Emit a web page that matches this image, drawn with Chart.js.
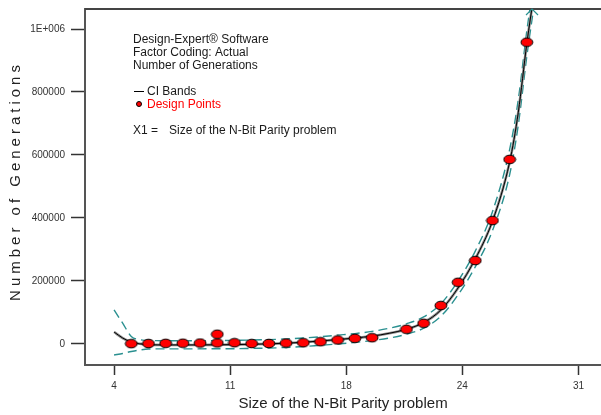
<!DOCTYPE html>
<html>
<head>
<meta charset="utf-8">
<script src="https://cdn.jsdelivr.net/npm/chart.js@4.4.1/dist/chart.umd.min.js"></script>
<style>
body { margin: 0; background: #fff; }
</style>
</head>
<body>
<canvas id="chart" width="601" height="415"></canvas>
<script>
// design points (size of problem vs generations)
const designX = [5, 6, 7, 8, 9, 10, 10, 11, 12, 13, 14, 15, 16, 17, 18, 19, 21, 22, 23, 24, 25, 26, 27, 28];
const designY = [1000, 1500, 2000, 2500, 3000, 3500, 31000, 4000, 1500, 1600, 3000, 4100, 7300, 12700, 18000, 20000, 46600, 65700, 122000, 196000, 265000, 392000, 586000, 958000];

// model line and CI bands
const curveX = [4, 4.5, 5, 5.5, 6, 7, 8, 9, 10, 11, 12, 13, 14, 15, 16, 17, 18, 19, 20, 21, 22, 23, 24, 25, 26, 27, 27.5, 28, 28.4];
const fitY = [38000, 19000, 6000, 500, -2000, -3000, -3000, -3000, -2500, -2000, -1000, 500, 2500, 5500, 9500, 14000, 19000, 25000, 34000, 47000, 68000, 108000, 178000, 270000, 390000, 578000, 735000, 955000, 1105000];
const upperY = [108000, 66000, 24000, 14000, 11000, 10500, 10500, 10500, 11000, 11500, 12500, 14000, 16000, 19000, 23000, 28000, 33000, 40000, 50000, 64000, 86000, 128000, 200000, 295000, 420000, 618000, 775000, 995000, 1145000];
const lowerY = [-35000, -30000, -24000, -19000, -16000, -15500, -15500, -15500, -15000, -15000, -14000, -13000, -11000, -8000, -4000, 0, 5000, 11000, 19000, 31000, 50000, 88000, 156000, 245000, 360000, 538000, 695000, 915000, 1068000];

const xTicks = [4, 10.75, 17.5, 24.25, 31];
const xTickLabels = ['4', '11', '18', '24', '31'];
const yTicks = [0, 200000, 400000, 600000, 800000, 1000000];
const yTickLabels = ['0', '200000', '400000', '600000', '800000', '1E+006'];

const headerLines = ['Design-Expert® Software', 'Factor Coding: Actual', 'Number of Generations'];
const bandLabel = 'CI Bands';
const pointLabel = 'Design Points';
const factorName = 'X1 =';
const factorText = 'Size of the N-Bit Parity problem';
const xTitle = 'Size of the N-Bit Parity problem';
const yTitle = 'Number of Generations';

const FONT = '"Liberation Sans", Arial, sans-serif';

function toPoints(xs, ys) {
    return xs.map((x, i) => ({ x: x, y: ys[i] }));
}

// red oval marker with black rim
const dot = document.createElement('canvas');
dot.width = 14;
dot.height = 11;
(function () {
    const c = dot.getContext('2d');
    c.beginPath();
    c.ellipse(7, 5.5, 5.9, 4.3, 0, 0, Math.PI * 2);
    c.fillStyle = '#ff0000';
    c.fill();
    c.lineWidth = 1;
    c.strokeStyle = '#000';
    c.stroke();
})();

const overlay = {
    id: 'overlay',
    afterDraw(chart) {
        const ctx = chart.ctx;
        const area = chart.chartArea;
        const xs = chart.scales.x;
        ctx.save();

        // frame top
        ctx.strokeStyle = '#444';
        ctx.lineWidth = 2;
        ctx.beginPath();
        ctx.moveTo(area.left, area.top);
        ctx.lineTo(area.right, area.top);
        ctx.stroke();

        // arrow where the curve leaves the plot
        const ax = xs.getPixelForValue(28.3);
        ctx.strokeStyle = '#2a9090';
        ctx.lineWidth = 1.2;
        ctx.beginPath();
        ctx.moveTo(ax - 6, area.top + 6);
        ctx.lineTo(ax, area.top);
        ctx.lineTo(ax + 6, area.top + 6);
        ctx.stroke();

        // notes block
        ctx.font = '12px ' + FONT;
        ctx.fillStyle = '#1a1a1a';
        ctx.textBaseline = 'alphabetic';
        ctx.textAlign = 'left';
        ctx.fillText(headerLines[0], 133, 43);
        ctx.fillText(headerLines[1], 133, 56);
        ctx.fillText(headerLines[2], 133, 69);

        ctx.strokeStyle = '#000';
        ctx.lineWidth = 1;
        ctx.beginPath();
        ctx.moveTo(134, 91.5);
        ctx.lineTo(144, 91.5);
        ctx.stroke();
        ctx.fillText(bandLabel, 147, 95);

        ctx.beginPath();
        ctx.arc(139, 104, 2.5, 0, Math.PI * 2);
        ctx.fillStyle = '#ff0000';
        ctx.fill();
        ctx.stroke();
        ctx.fillText(pointLabel, 147, 108);

        ctx.fillStyle = '#1a1a1a';
        ctx.fillText(factorName, 133, 134);
        ctx.fillText(factorText, 169, 134);

        // spaced y title
        ctx.translate(16, 181);
        ctx.rotate(-Math.PI / 2);
        ctx.font = '15px ' + FONT;
        ctx.letterSpacing = '4px';
        ctx.textAlign = 'center';
        ctx.textBaseline = 'middle';
        ctx.fillStyle = '#222';
        ctx.fillText(yTitle, 0, 0);
        ctx.restore();
    }
};

function curveSet(label, ys, color, width, dash) {
    return {
        type: 'line',
        label: label,
        data: toPoints(curveX, ys),
        borderColor: color,
        borderWidth: width,
        borderDash: dash,
        pointRadius: 0,
        fill: false,
        cubicInterpolationMode: 'monotone'
    };
}

new Chart(document.getElementById('chart').getContext('2d'), {
    type: 'scatter',
    data: {
        datasets: [
            {
                label: pointLabel,
                data: toPoints(designX, designY),
                pointStyle: dot,
                showLine: false
            },
            curveSet('Fit', fitY, '#000', 1, []),
            curveSet('Fit shade', fitY, '#8c8c8c', 2.6, []),
            curveSet('Upper CI', upperY, '#2a9090', 1.4, [9, 5]),
            curveSet('Lower CI', lowerY, '#2a9090', 1.4, [9, 5])
        ]
    },
    options: {
        responsive: false,
        animation: false,
        layout: {
            autoPadding: false,
            padding: { top: 9, right: 0, left: 0, bottom: 0 }
        },
        plugins: {
            legend: { display: false },
            tooltip: { enabled: false }
        },
        scales: {
            x: {
                type: 'linear',
                min: 2.31,
                max: 32.31,
                afterBuildTicks: function (s) { s.ticks = xTicks.map(v => ({ value: v })); },
                afterFit: function (s) {
                    s.height = 50;
                    s.paddingLeft = 0;
                    s.paddingRight = 0;
                },
                ticks: {
                    callback: (v, i) => xTickLabels[i],
                    font: { size: 10, family: FONT },
                    color: '#333',
                    padding: 5,
                    maxRotation: 0,
                    autoSkip: false
                },
                grid: { drawOnChartArea: false, tickLength: 10, color: '#333', tickWidth: 1.5 },
                border: { color: '#555', width: 2 },
                title: {
                    display: true,
                    text: xTitle,
                    color: '#222',
                    font: { size: 15, family: FONT },
                    padding: { top: 0, bottom: 2 }
                }
            },
            y: {
                min: -66700,
                max: 1063500,
                afterBuildTicks: function (s) { s.ticks = yTicks.map(v => ({ value: v })); },
                afterFit: function (s) {
                    s.width = 85;
                    s.paddingTop = 0;
                    s.paddingBottom = 0;
                },
                ticks: {
                    callback: (v, i) => yTickLabels[i],
                    font: { size: 10, family: FONT },
                    color: '#333',
                    padding: 6
                },
                grid: { drawOnChartArea: false, tickLength: 14, color: '#333', tickWidth: 1.5 },
                border: { color: '#555', width: 2 }
            }
        }
    },
    plugins: [overlay]
});
</script>
</body>
</html>
